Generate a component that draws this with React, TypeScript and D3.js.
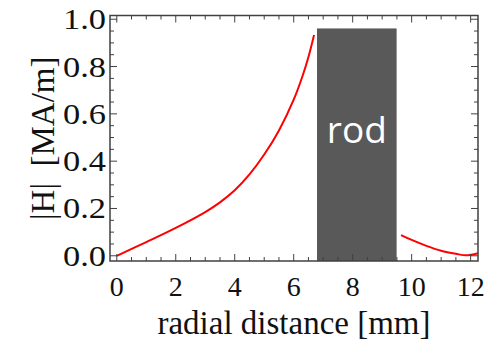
import React from "react";
import * as d3 from "d3";

const innerX = [0, 1, 2, 3, 3.5, 4, 4.5, 5, 5.5, 6, 6.3, 6.5, 6.69];
const innerY = [0, 0.058, 0.118, 0.185, 0.226, 0.277, 0.344, 0.428, 0.53, 0.66, 0.76, 0.84, 0.933];
const outerX = [9.64, 10, 10.5, 11, 11.5, 11.85, 12.25];
const outerY = [0.0875, 0.067, 0.042, 0.0215, 0.0085, 0.002, 0.011];
const rodRange = [6.79, 9.49];
const rodTop = 0.961;
const rodLabel = "rod";
const xTicks = [0, 2, 4, 6, 8, 10, 12];
const yTicks = [0, 0.2, 0.4, 0.6, 0.8, 1.0];
const xTitle = "radial distance [mm]";
const yTitle = "|H|  [MA/m]";

const W = 494, H = 348;
const L = 110, R = 478, T = 15.5, B = 261;

export default function App() {
  const x = d3.scaleLinear().domain([-0.23, 12.25]).range([L, R]);
  const y = d3.scaleLinear().domain([-0.022, 1.0157]).range([B, T]);
  const line = d3
    .line<[number, number]>()
    .x((d) => x(d[0]))
    .y((d) => y(d[1]))
    .curve(d3.curveCatmullRom.alpha(0.5));
  const inner = innerX.map((v, i) => [v, innerY[i]] as [number, number]);
  const outer = outerX.map((v, i) => [v, outerY[i]] as [number, number]);
  const xMinor = d3.range(0, 12.01, 0.5);
  const yMinor = d3.range(0, 1.001, 0.05);
  const frame = "#404040";
  const serif = "'Liberation Serif', 'Times New Roman', serif";
  return (
    <svg
      width={W}
      height={H}
      style={{ position: "absolute", left: 0, top: 0, background: "#fff" }}
    >
      <rect
        x={x(rodRange[0])}
        y={y(rodTop)}
        width={x(rodRange[1]) - x(rodRange[0])}
        height={B - y(rodTop)}
        fill="#595959"
      />
      <text
        x={(x(rodRange[0]) + x(rodRange[1])) / 2}
        y={143}
        textAnchor="middle"
        fill="#fff"
        fontFamily="'Open Sans', sans-serif"
        fontSize={37}
      >
        {rodLabel}
      </text>
      <path d={line(inner) || ""} fill="none" stroke="#ff0000" strokeWidth={2} />
      <path d={line(outer) || ""} fill="none" stroke="#ff0000" strokeWidth={2} />
      {xMinor.map((v) => {
        const major = Math.abs(v / 2 - Math.round(v / 2)) < 1e-6;
        const len = major ? 7 : 4;
        return (
          <g key={"xt" + v} stroke={frame} strokeWidth={1}>
            <line x1={x(v)} x2={x(v)} y1={B} y2={B - len} />
            <line x1={x(v)} x2={x(v)} y1={T} y2={T + len} />
          </g>
        );
      })}
      {yMinor.map((v) => {
        const major = Math.abs(v / 0.2 - Math.round(v / 0.2)) < 1e-6;
        const len = major ? 7 : 4;
        return (
          <g key={"yt" + v} stroke={frame} strokeWidth={1}>
            <line x1={L} x2={L + len} y1={y(v)} y2={y(v)} />
            <line x1={R} x2={R - len} y1={y(v)} y2={y(v)} />
          </g>
        );
      })}
      <rect x={L} y={T} width={R - L} height={B - T} fill="none" stroke={frame} strokeWidth={1.5} />
      {xTicks.map((v) => (
        <text
          key={"xl" + v}
          x={x(v)}
          y={296}
          textAnchor="middle"
          fontFamily={serif}
          fontSize={28}
          fill="#111"
        >
          {v}
        </text>
      ))}
      {yTicks.map((v) => (
        <text
          key={"yl" + v}
          x={106}
          y={y(v) + 10}
          textAnchor="end"
          fontFamily={serif}
          fontSize={30}
          fill="#111"
          textLength={43}
          lengthAdjust="spacingAndGlyphs"
        >
          {v.toFixed(1)}
        </text>
      ))}
      <text
        x={(L + R) / 2}
        y={334}
        textAnchor="middle"
        fontFamily={serif}
        fontSize={33}
        fill="#111"
      >
        {xTitle}
      </text>
      <text
        transform={`translate(54, ${(T + B) / 2}) rotate(-90)`}
        textAnchor="middle"
        fontFamily={serif}
        fontSize={33}
        fill="#111"
        style={{ whiteSpace: "pre" }}
      >
        {yTitle}
      </text>
    </svg>
  );
}
